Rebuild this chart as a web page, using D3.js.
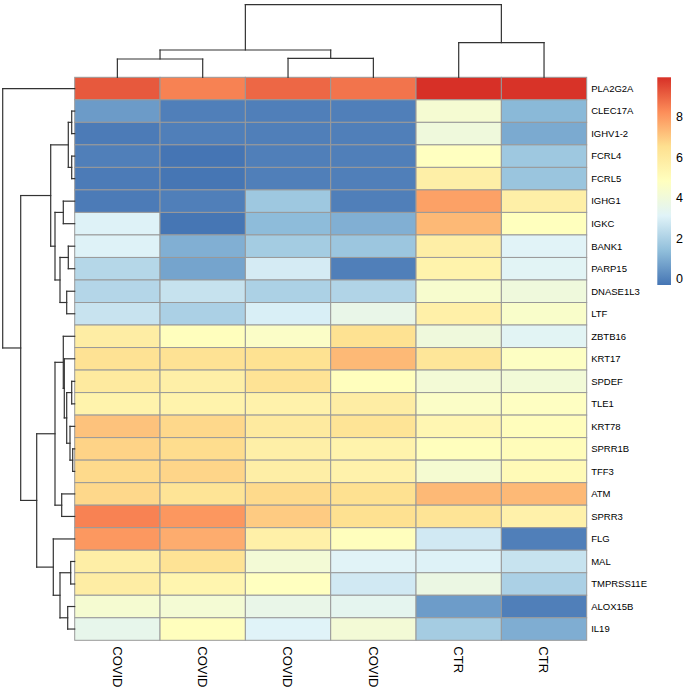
<!DOCTYPE html>
<html>
<head>
<meta charset="utf-8">
<script src="https://cdn.jsdelivr.net/npm/d3@7"></script>
<style>
  body { margin: 0; background: #fff; }
  text { font-family: "Liberation Sans", Arial, sans-serif; fill: #000; }
</style>
</head>
<body>
<svg></svg>
<script>
// data
const genes = ['PLA2G2A','CLEC17A','IGHV1-2','FCRL4','FCRL5','IGHG1','IGKC','BANK1','PARP15',
  'DNASE1L3','LTF','ZBTB16','KRT17','SPDEF','TLE1','KRT78','SPRR1B','TFF3','ATM','SPRR3',
  'FLG','MAL','TMPRSS11E','ALOX15B','IL19'];
const samples = ['COVID','COVID','COVID','COVID','CTR','CTR'];

const covid1 = [9.2, 0.58, -0.15, -0.06, -0.15, -0.15, 3.08, 3.08, 2.19, 2.17, 2.6, 5.8, 6.4, 6.0, 5.5, 7.15, 6.8, 6.65, 6.7, 8.44, 8.01, 5.75, 5.8, 4.3, 3.5];
const covid2 = [8.45, -0.06, -0.06, -0.3, -0.28, -0.06, -0.28, 1.05, 0.78, 2.55, 1.98, 4.9, 6.4, 5.7, 5.5, 6.7, 6.6, 6.75, 6.3, 8.04, 7.6, 6.35, 5.4, 4.2, 4.9];
const covid3 = [8.94, -0.06, -0.06, -0.06, -0.06, 1.7, 1.35, 1.82, 2.87, 2.0, 2.97, 4.6, 6.45, 6.35, 5.55, 6.0, 5.7, 5.75, 6.65, 6.96, 5.65, 4.15, 4.8, 3.6, 3.12];
const covid4 = [8.7, -0.06, -0.06, -0.06, -0.06, -0.06, 1.05, 1.65, -0.06, 2.1, 3.6, 6.45, 7.34, 4.9, 5.8, 6.3, 5.5, 5.55, 6.5, 6.5, 4.9, 3.15, 2.8, 3.4, 4.15];
const ctr1   = [9.95, 4.26, 3.97, 4.8, 5.7, 7.83, 7.34, 5.75, 5.5, 4.37, 5.65, 3.95, 6.2, 4.15, 4.6, 5.3, 4.9, 4.3, 7.33, 6.3, 2.8, 3.08, 3.75, 0.6, 1.85];
const ctr2   = [9.9, 1.26, 0.92, 1.7, 1.6, 5.7, 4.85, 3.15, 3.2, 3.97, 4.5, 3.25, 4.7, 4.1, 4.75, 4.95, 5.0, 5.1, 7.33, 5.6, -0.06, 2.58, 1.98, -0.06, 1.0];
const columns = [covid1, covid2, covid3, covid4, ctr1, ctr2];

// dendrograms: [height, left, right], numbers are leaf indexes
const rowTree = [72, 0, [54,
  [24, [6.4, [3, 1, 2], [3, 3, 4]], [19.7, [11.4, 5, 6], [14.7, [6.4, 7, 8], [8, 9, 10]]]],
  [38, [19.7, [11.4, 11, [10.4, 12, [8, [3, 13, 14], [4.7, 15, [2, 16, 17]]]]], [13, 18, 19]],
       [21.4, 20, [14.7, [4, 21, 22], [7, 23, 24]]]]]];
const colTree = [72.6, [27.3, [18.3, 0, 1], [19, 2, 3]], [34.6, 4, 5]];

const legendTicks = [0, 2, 4, 6, 8];
const palette = ['#4575B4', '#91BFDB', '#E0F3F8', '#FFFFBF', '#FEE090', '#FC8D59', '#D73027'];

let w = 685;
let h = 690;
let hmLeft = 74.7, hmRight = 586.7, hmTop = 77.3, hmBottom = 640.3;

const svg = d3.select('svg')
  .attr('width', w)
  .attr('height', h)

// Scales
const xScale = d3.scaleBand().domain(d3.range(samples.length)).range([hmLeft, hmRight])
const yScale = d3.scaleBand().domain(d3.range(genes.length)).range([hmTop, hmBottom])

const allValues = columns.flat();
const ext = d3.extent(allValues);
const color = d3.scaleLinear()
  .domain(palette.map((c, i) => ext[0] + i * (ext[1] - ext[0]) / (palette.length - 1)))
  .range(palette)
  .interpolate(d3.interpolateRgb)

// Draw cells
const cells = [];
columns.forEach((col, j) => col.forEach((v, i) => cells.push({ i, j, v })));

svg.append('g').selectAll('rect')
  .data(cells)
  .enter()
  .append('rect')
  .attr('x', d => xScale(d.j))
  .attr('y', d => yScale(d.i))
  .attr('width', xScale.bandwidth())
  .attr('height', yScale.bandwidth())
  .attr('fill', d => color(d.v))
  .attr('stroke', '#999999')
  .attr('stroke-width', 1)

// Dendrograms
function layout(node, pos) {
  if (typeof node === 'number') return { p: pos(node), h: 0, segs: [] };
  const a = layout(node[1], pos), b = layout(node[2], pos);
  const p = (a.p + b.p) / 2;
  const segs = a.segs.concat(b.segs, [[a.p, a.h, a.p, node[0]], [a.p, node[0], b.p, node[0]], [b.p, node[0], b.p, b.h]]);
  return { p, h: node[0], segs };
}

const colH = d3.scaleLinear().domain([0, colTree[0]]).range([hmTop, hmTop - 72.6]);
const colSegs = layout(colTree, i => xScale(i) + xScale.bandwidth() / 2).segs;
svg.append('g').selectAll('line')
  .data(colSegs)
  .enter()
  .append('line')
  .attr('x1', d => d[0]).attr('y1', d => colH(d[1]))
  .attr('x2', d => d[2]).attr('y2', d => colH(d[3]))
  .attr('stroke', '#333')
  .attr('stroke-width', 1.2)
  .attr('stroke-linecap', 'square')

const rowH = d3.scaleLinear().domain([0, rowTree[0]]).range([hmLeft, hmLeft - 72]);
const rowSegs = layout(rowTree, i => yScale(i) + yScale.bandwidth() / 2).segs;
svg.append('g').selectAll('line')
  .data(rowSegs)
  .enter()
  .append('line')
  .attr('y1', d => d[0]).attr('x1', d => rowH(d[1]))
  .attr('y2', d => d[2]).attr('x2', d => rowH(d[3]))
  .attr('stroke', '#333')
  .attr('stroke-width', 1.2)
  .attr('stroke-linecap', 'square')

// Labels
svg.append('g').selectAll('text')
  .data(genes)
  .enter()
  .append('text')
  .attr('x', hmRight + 4.5)
  .attr('y', (d, i) => yScale(i) + yScale.bandwidth() / 2)
  .attr('dy', '0.35em')
  .style('font-size', '9.5px')
  .text(d => d)

svg.append('g').selectAll('text')
  .data(samples)
  .enter()
  .append('text')
  .attr('transform', (d, i) => `translate(${xScale(i) + xScale.bandwidth() / 2},${hmBottom + 6}) rotate(90)`)
  .attr('dy', '0.35em')
  .style('font-size', '13px')
  .text(d => d)

// Legend
const legTop = 77.3, legBottom = 285, legX = 657.3, legW = 13.7;
const legScale = d3.scaleLinear().domain(ext).range([legBottom, legTop]);

const grad = svg.append('defs').append('linearGradient')
  .attr('id', 'grad')
  .attr('x1', 0).attr('y1', 1).attr('x2', 0).attr('y2', 0)
grad.selectAll('stop')
  .data(palette)
  .enter()
  .append('stop')
  .attr('offset', (d, i) => i / (palette.length - 1))
  .attr('stop-color', d => d)

svg.append('rect')
  .attr('x', legX)
  .attr('y', legTop)
  .attr('width', legW)
  .attr('height', legBottom - legTop)
  .attr('fill', 'url(#grad)')

svg.append('g').selectAll('text')
  .data(legendTicks)
  .enter()
  .append('text')
  .attr('x', 676)
  .attr('y', d => legScale(d))
  .attr('dy', '0.36em')
  .style('font-size', '12.5px')
  .text(d => d)
</script>
</body>
</html>
